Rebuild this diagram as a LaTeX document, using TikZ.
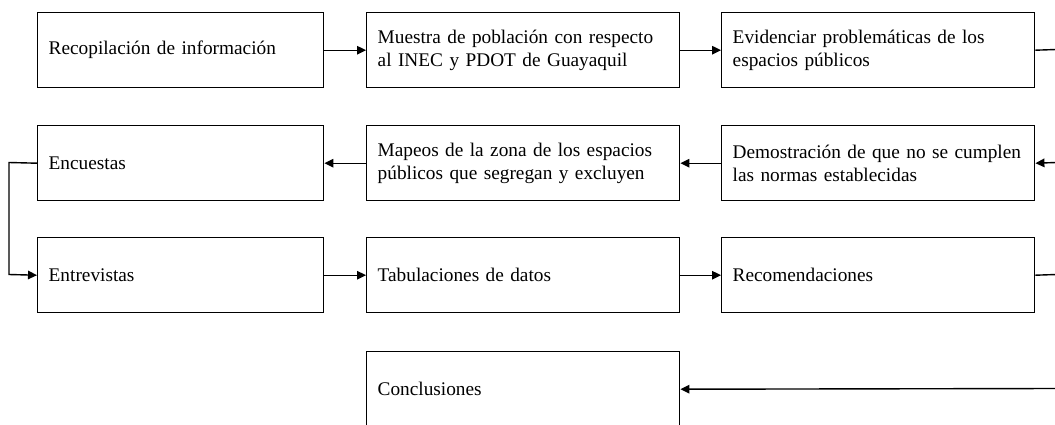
\documentclass[tikz,border=0pt]{standalone}
\usepackage{fontspec}
\setmainfont{Liberation Serif}
\usetikzlibrary{arrows.meta}
\begin{document}
\begin{tikzpicture}[x=1pt,y=-1pt,
  box/.style={draw, line width=1.4pt, anchor=north west, align=left, inner xsep=11pt, inner ysep=0pt,
    minimum height=75pt, font=\fontsize{19.3}{23}\selectfont},
  narrow/.style={box, text width=264pt},
  wide/.style={box, text width=291pt},
  conn/.style={line width=1.4pt},
  arr/.style={conn, -{Triangle[length=9pt,width=8.5pt]}}]
\useasboundingbox (0,0) rectangle (1055,424);
\fill[white] (0,0) rectangle (1055,424);
\clip (0,0) rectangle (1055,424);
\node[narrow] (b1) at (37,12) {Recopilación de información};
\node[wide] (b2) at (366,12) {Muestra de población con respecto\\al INEC y PDOT de Guayaquil};
\node[wide] (b3) at (721,12) {Evidenciar problemáticas de los\\espacios públicos};
\node[narrow] (b4) at (37,125) {Encuestas};
\node[wide] (b5) at (366,125) {Mapeos de la zona de los espacios\\públicos que segregan y excluyen};
\node[wide] (b6) at (721,125) {Demostración de que no se cumplen\\las normas establecidas};
\node[narrow] (b7) at (37,237) {Entrevistas};
\node[wide] (b8) at (366,237) {Tabulaciones de datos};
\node[wide] (b9) at (721,237) {Recomendaciones};
\node[wide] (b10) at (366,351) {Conclusiones};
\coordinate (r1) at (1056,49.5);
\coordinate (r2) at (1056,162.5);
\coordinate (r3) at (1056,274.5);
\coordinate (r4) at (1056,388.5);
\coordinate (l1) at (9,162.5);
\coordinate (l2) at (9,274.5);
\draw[arr] (b1.east) -- (b2.west);
\draw[arr] (b2.east) -- (b3.west);
\draw[conn] (b3.east) -- (r1);
\draw[arr] (r2) -- (b6.east);
\draw[arr] (b6.west) -- (b5.east);
\draw[arr] (b5.west) -- (b4.east);
\draw[arr] (b4.west) -- (l1) -- (l2) -- (b7.west);
\draw[arr] (b7.east) -- (b8.west);
\draw[arr] (b8.east) -- (b9.west);
\draw[conn] (b9.east) -- (r3);
\draw[arr] (r4) -- (b10.east);
\end{tikzpicture}
\end{document}
